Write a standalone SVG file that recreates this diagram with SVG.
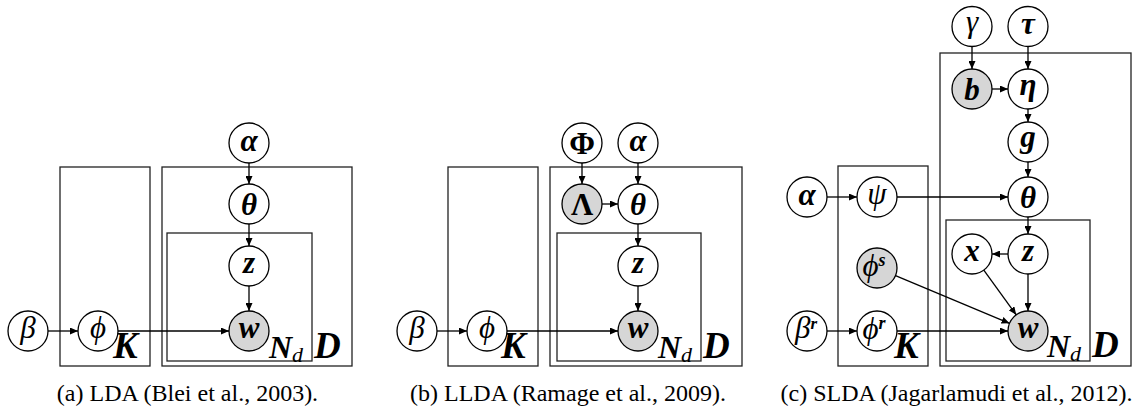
<svg xmlns="http://www.w3.org/2000/svg" width="1137" height="412" viewBox="0 0 1137 412">
<style>
.plate{fill:none;stroke:#222;stroke-width:1.3}
.n{fill:#fff;stroke:#000;stroke-width:1.3}
.o{fill:#d6d6d6;stroke:#000;stroke-width:1.3}
.e{stroke:#000;stroke-width:1.3;fill:none;marker-end:url(#ah)}
.l{font-family:"Liberation Serif","DejaVu Serif",serif;font-size:31px;text-anchor:middle;fill:#000}
.bi{font-style:italic;font-weight:bold}
.it{font-style:italic}
.bu{font-weight:bold}
.pl{font-family:"Liberation Serif","DejaVu Serif",serif;font-style:italic;font-weight:bold;font-size:37px;fill:#000}
.pn{font-family:"Liberation Serif","DejaVu Serif",serif;font-style:italic;font-weight:bold;font-size:32px;fill:#000}
.sub{font-weight:normal;font-size:22px}
.cap{font-family:"Liberation Serif","Times New Roman",serif;font-size:24px;text-anchor:middle;fill:#000}
</style>
<defs>
<marker id="ah" markerUnits="userSpaceOnUse" markerWidth="8" markerHeight="7" refX="8" refY="3.5" orient="auto">
<path d="M0,0 L8,3.5 L0,7 z" fill="#000"/>
</marker>
</defs>

<!-- Panel (a) -->
<g id="plates-a">
<rect class="plate" x="60" y="167" width="90" height="199"/>
<rect class="plate" x="162" y="167" width="190" height="199"/>
<rect class="plate" x="167" y="233" width="145" height="128"/>
<text class="pl" x="113" y="358">K</text>
<text class="pn" x="269" y="358">N<tspan class="sub" dy="4">d</tspan></text>
<text class="pl" x="314" y="358">D</text>
</g>
<g id="edges-a">
<line class="e" x1="249" y1="163" x2="249" y2="184"/>
<line class="e" x1="249" y1="224" x2="249" y2="246"/>
<line class="e" x1="249" y1="286" x2="249" y2="311"/>
<line class="e" x1="48" y1="331" x2="78" y2="331"/>
<line class="e" x1="118" y1="331" x2="229" y2="331"/>
</g>
<g id="a-alpha"><circle class="n" cx="249" cy="143" r="20"/><text class="l bi" x="249" y="150.5">α</text></g>
<g id="a-theta"><circle class="n" cx="249" cy="204" r="20"/><text class="l bi" x="249" y="214.5">θ</text></g>
<g id="a-z"><circle class="n" cx="249" cy="266" r="20"/><text class="l bi" x="249" y="273">z</text></g>
<g id="a-w"><circle class="o" cx="249" cy="331" r="20"/><text class="l bi" x="249" y="338">w</text></g>
<g id="a-beta"><circle class="n" cx="28" cy="331" r="20"/><text class="l it" x="28" y="338">β</text></g>
<g id="a-phi"><circle class="n" cx="98" cy="331" r="20"/><text class="l it" x="98" y="338">ϕ</text></g>
<text class="cap" x="187.5" y="401" font-size="25.5">(a) LDA (Blei et al., 2003).</text>

<!-- Panel (b) -->
<g id="plates-b">
<rect class="plate" x="448" y="167" width="90" height="199"/>
<rect class="plate" x="550" y="167" width="192" height="199"/>
<rect class="plate" x="557" y="233" width="144" height="128"/>
<text class="pl" x="501" y="358">K</text>
<text class="pn" x="658" y="358">N<tspan class="sub" dy="4">d</tspan></text>
<text class="pl" x="703" y="358">D</text>
</g>
<g id="edges-b">
<line class="e" x1="582" y1="163" x2="582" y2="184"/>
<line class="e" x1="638" y1="163" x2="638" y2="184"/>
<line class="e" x1="602" y1="204" x2="618" y2="204"/>
<line class="e" x1="638" y1="224" x2="638" y2="246"/>
<line class="e" x1="638" y1="286" x2="638" y2="311"/>
<line class="e" x1="437" y1="331" x2="467" y2="331"/>
<line class="e" x1="507" y1="331" x2="618" y2="331"/>
</g>
<g id="b-Phi"><circle class="n" cx="582" cy="143" r="20"/><text class="l bu" x="582" y="153.5">Φ</text></g>
<g id="b-alpha"><circle class="n" cx="638" cy="143" r="20"/><text class="l bi" x="638" y="150.5">α</text></g>
<g id="b-Lambda"><circle class="o" cx="582" cy="204" r="20"/><text class="l bu" x="582" y="214.5">Λ</text></g>
<g id="b-theta"><circle class="n" cx="638" cy="204" r="20"/><text class="l bi" x="638" y="214.5">θ</text></g>
<g id="b-z"><circle class="n" cx="638" cy="266" r="20"/><text class="l bi" x="638" y="273">z</text></g>
<g id="b-w"><circle class="o" cx="638" cy="331" r="20"/><text class="l bi" x="638" y="338">w</text></g>
<g id="b-beta"><circle class="n" cx="417" cy="331" r="20"/><text class="l it" x="417" y="338">β</text></g>
<g id="b-phi"><circle class="n" cx="487" cy="331" r="20"/><text class="l it" x="487" y="338">ϕ</text></g>
<text class="cap" x="568" y="401">(b) LLDA (Ramage et al., 2009).</text>

<!-- Panel (c) -->
<g id="plates-c">
<rect class="plate" x="838" y="166" width="90" height="200"/>
<rect class="plate" x="940" y="53" width="191" height="313"/>
<rect class="plate" x="946" y="220" width="144" height="141"/>
<text class="pl" x="894" y="358">K</text>
<text class="pn" x="1047" y="357">N<tspan class="sub" dy="4">d</tspan></text>
<text class="pl" x="1092" y="357">D</text>
</g>
<g id="edges-c">
<line class="e" x1="972" y1="46.5" x2="972" y2="69"/>
<line class="e" x1="1028" y1="46.5" x2="1028" y2="69"/>
<line class="e" x1="992" y1="89" x2="1008" y2="89"/>
<line class="e" x1="1028" y1="109" x2="1028" y2="122"/>
<line class="e" x1="1028" y1="162" x2="1028" y2="177"/>
<line class="e" x1="827" y1="197" x2="857" y2="197"/>
<line class="e" x1="897" y1="197" x2="1008" y2="197"/>
<line class="e" x1="1028" y1="217" x2="1028" y2="234"/>
<line class="e" x1="1008" y1="254" x2="992" y2="254"/>
<line class="e" x1="1028" y1="274" x2="1028" y2="311"/>
<line class="e" x1="983.8" y1="270.2" x2="1016.2" y2="314.8"/>
<line class="e" x1="895.5" y1="275.7" x2="1009.5" y2="323.3"/>
<line class="e" x1="827" y1="331" x2="857" y2="331"/>
<line class="e" x1="897" y1="331" x2="1008" y2="331"/>
</g>
<g id="c-gamma"><circle class="n" cx="972" cy="26.5" r="20"/><text class="l it" x="972" y="32">γ</text></g>
<g id="c-tau"><circle class="n" cx="1028" cy="26.5" r="20"/><text class="l bi" x="1028" y="34">τ</text></g>
<g id="c-b"><circle class="o" cx="972" cy="89" r="20"/><text class="l bi" x="972" y="99.5">b</text></g>
<g id="c-eta"><circle class="n" cx="1028" cy="89" r="20"/><text class="l bi" x="1028" y="94.5">η</text></g>
<g id="c-g"><circle class="n" cx="1028" cy="142" r="20"/><text class="l bi" x="1028" y="147">g</text></g>
<g id="c-theta"><circle class="n" cx="1028" cy="197" r="20"/><text class="l bi" x="1028" y="207.5">θ</text></g>
<g id="c-alpha"><circle class="n" cx="807" cy="197" r="20"/><text class="l bi" x="807" y="204.5">α</text></g>
<g id="c-psi"><circle class="n" cx="877" cy="197" r="20"/><text class="l it" x="877" y="204">ψ</text></g>
<g id="c-z"><circle class="n" cx="1028" cy="254" r="20"/><text class="l bi" x="1028" y="261">z</text></g>
<g id="c-x"><circle class="n" cx="972" cy="254" r="20"/><text class="l bi" x="972" y="261">x</text></g>
<g id="c-phis"><circle class="o" cx="877" cy="268" r="20"/><text class="l it" x="874" y="276" font-size="28">ϕ<tspan font-size="18" font-weight="bold" dy="-10">s</tspan></text></g>
<g id="c-w"><circle class="o" cx="1028" cy="331" r="20"/><text class="l bi" x="1028" y="338">w</text></g>
<g id="c-betar"><circle class="n" cx="807" cy="331" r="20"/><text class="l it" x="806" y="338" font-size="25">β<tspan font-size="17" font-weight="bold" dy="-9">r</tspan></text></g>
<g id="c-phir"><circle class="n" cx="877" cy="331" r="20"/><text class="l it" x="874" y="339" font-size="28">ϕ<tspan font-size="18" font-weight="bold" dy="-10">r</tspan></text></g>
<text class="cap" x="956.5" y="401">(c) SLDA (Jagarlamudi et al., 2012).</text>
</svg>
